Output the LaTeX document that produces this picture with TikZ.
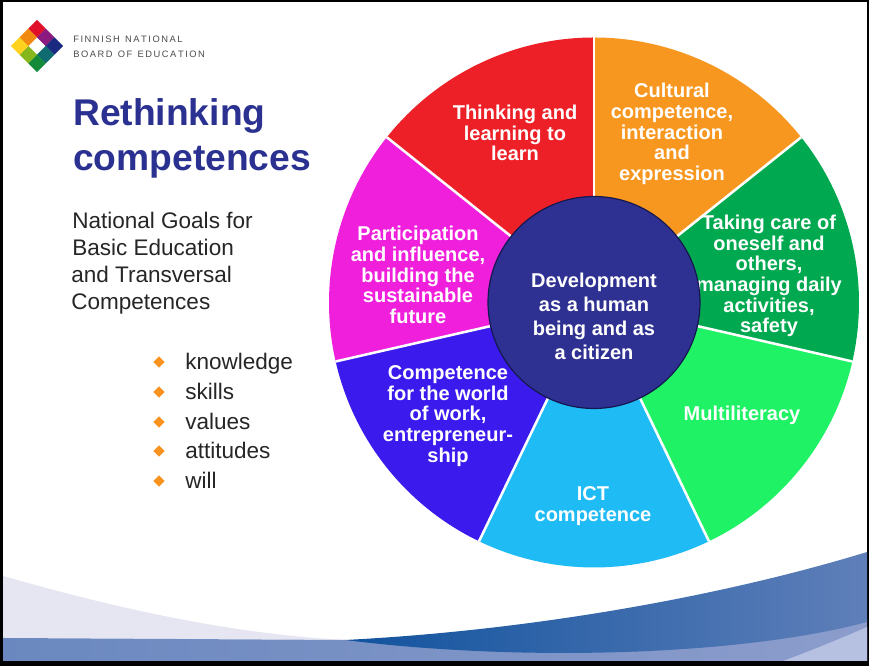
\documentclass[tikz,border=0pt]{standalone}
\usepackage{fontspec}
\setmainfont{Liberation Sans}
\usetikzlibrary{shapes.geometric}
\definecolor{cRed}{HTML}{EE2027}
\definecolor{cOrange}{HTML}{F8971F}
\definecolor{cGreen}{HTML}{00A94F}
\definecolor{cSpring}{HTML}{1FF264}
\definecolor{cCyan}{HTML}{1EBBF5}
\definecolor{cIndigo}{HTML}{3B1AEE}
\definecolor{cMagenta}{HTML}{F01FDC}
\definecolor{cCore}{HTML}{2E3192}
\definecolor{cCoreEdge}{HTML}{15184F}
\definecolor{cTitle}{HTML}{2B3190}
\definecolor{cBul}{HTML}{F7931E}
\definecolor{cLav}{HTML}{E5E6F2}
\definecolor{cBandA}{HTML}{6A88BF}
\definecolor{cBandB}{HTML}{8C9DCC}
\definecolor{cPale}{HTML}{B6C1E1}
\definecolor{cDeepA}{HTML}{11539E}
\definecolor{cDeepM}{HTML}{1F5CA3}
\definecolor{cDeepB}{HTML}{5F7FB9}
\definecolor{lgRed}{HTML}{E0102A}
\definecolor{lgPurple}{HTML}{8A1A80}
\definecolor{lgNavy}{HTML}{1A2A80}
\definecolor{lgTeal}{HTML}{0F6B70}
\definecolor{lgGreen}{HTML}{128A3A}
\definecolor{lgOlive}{HTML}{86B81E}
\definecolor{lgYellow}{HTML}{FFD21F}
\definecolor{lgOrange}{HTML}{F08A10}
\tikzset{
  x=0.75pt,y=0.75pt,
  seglabel/.style={text=white,align=center,font=\fontsize{15}{15.5}\selectfont\bfseries,inner sep=0pt},
  corelabel/.style={text=white,align=center,font=\fontsize{15}{18}\selectfont\bfseries,inner sep=0pt},
  bodytext/.style={anchor=base west,inner sep=0pt,text=black!85,font=\fontsize{16.9}{20}\selectfont},
  titletext/.style={anchor=base west,inner sep=0pt,text=cTitle,font=\fontsize{27.9}{30}\selectfont\bfseries},
  logotext/.style={anchor=base west,inner sep=0pt,text=black!70,font=\fontsize{7}{8}\selectfont},
  bul/.style={diamond,fill=cBul,minimum size=8.5pt,inner sep=0pt},
  spoke/.style={draw=white,line width=1.9pt}
}
\newcommand{\wedgeseg}[3]{\fill[#3] (594,363.5) -- ++(#1:265) arc[start angle=#1,end angle=#2,radius=265] -- cycle;}
\newcommand{\logocell}[3]{\fill[#3] (#1-0.5,#2-0.5) rectangle (#1+0.5,#2+0.5);}
\begin{document}
\begin{tikzpicture}
\useasboundingbox (0,0) rectangle (869,666);
\fill[black] (0,0) rectangle (869,666);
\fill[white] (3,5) rectangle (867,664);
% background swooshes
\fill[cLav] (3,90) .. controls (115,58) and (230,32) .. (345,26) -- (3,28) -- cycle;
\shade[left color=cBandA,right color=cBandB] (3,5) -- (3,28) -- (345,26) -- (600,20) -- (867,46) -- (867,5) -- cycle;
\fill[cPale] (783,5) .. controls (810,15) and (840,27) .. (867,39) -- (867,5) -- cycle;
\shade[left color=cDeepA,middle color=cDeepM,right color=cDeepB] (345,26) .. controls (540,36) and (730,72) .. (867,114) -- (867,44) .. controls (740,10) and (520,4) .. (345,26) -- cycle;
% logo
\begin{scope}[shift={(37,620)},rotate=45,x=9.2pt,y=9.2pt]
\logocell{1}{1}{lgRed}
\logocell{1}{0}{lgPurple}
\logocell{1}{-1}{lgNavy}
\logocell{0}{-1}{lgTeal}
\logocell{-1}{-1}{lgGreen}
\logocell{-1}{0}{lgOlive}
\logocell{-1}{1}{lgYellow}
\logocell{0}{1}{lgOrange}
\end{scope}
\node[logotext] (logoA) at (73,623) {F\,I\,N\,N\,I\,S\,H\ \ N\,A\,T\,I\,O\,N\,A\,L};
\node[logotext] (logoB) at (73,608) {B\,O\,A\,R\,D\ \ O\,F\ \ E\,D\,U\,C\,A\,T\,I\,O\,N};
% heading
\node[titletext] (titleA) at (73,540) {Rethinking};
\node[titletext] (titleB) at (73,495) {competences};
\node[bodytext] (goalA) at (72,437) {National Goals for};
\node[bodytext] (goalB) at (72,410) {Basic Education};
\node[bodytext] (goalC) at (71,383) {and Transversal};
\node[bodytext] (goalD) at (71,356) {Competences};
% bullets
\node[bul] (bulA) at (159,304) {};
\node[bul] (bulB) at (159,274) {};
\node[bul] (bulC) at (159,244) {};
\node[bul] (bulD) at (159,215) {};
\node[bul] (bulE) at (159,185) {};
\node[bodytext] (itemA) at (185,296) {knowledge};
\node[bodytext] (itemB) at (185,266) {skills};
\node[bodytext] (itemC) at (185,236) {values};
\node[bodytext] (itemD) at (185,207) {attitudes};
\node[bodytext] (itemE) at (185,177) {will};
% wheel
\wedgeseg{90}{141.43}{cRed}
\wedgeseg{38.57}{90}{cOrange}
\wedgeseg{-12.86}{38.57}{cGreen}
\wedgeseg{-64.29}{-12.86}{cSpring}
\wedgeseg{-115.71}{-64.29}{cCyan}
\wedgeseg{-167.14}{-115.71}{cIndigo}
\wedgeseg{141.43}{192.86}{cMagenta}
\foreach \a in {90,38.57,-12.86,-64.29,-115.71,-167.14,141.43}
  \draw[spoke] (594,363.5) -- ++(\a:265);
\node[seglabel] (thinking) at (515,533) {Thinking and\\learning to\\learn};
\node[seglabel] (cultural) at (672,532) {Cultural\\competence,\\interaction\\and\\expression};
\node[seglabel] (taking) at (769,390) {Taking care of\\oneself and\\others,\\managing daily\\activities,\\safety};
\node[seglabel] (multi) at (742,251) {Multiliteracy};
\node[seglabel] (ict) at (593,160) {ICT\\competence};
\node[seglabel] (work) at (448,250) {Competence\\for the world\\of work,\\entrepreneur-\\ship};
\node[seglabel] (part) at (418,391) {Participation\\and influence,\\building the\\sustainable\\future};
\node[circle,fill=cCore,draw=cCoreEdge,line width=0.9pt,minimum size=159pt,inner sep=0pt] (core) at (594,363.5) {};
\node[corelabel] (corelabel) at (594,350) {Development\\as a human\\being and as\\a citizen};
\end{tikzpicture}
\end{document}
